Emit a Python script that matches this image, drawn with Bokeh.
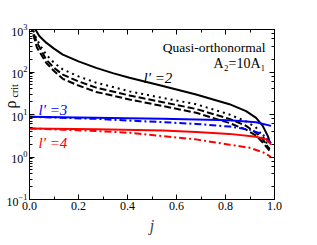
import numpy as np
from bokeh.plotting import figure
from bokeh.models import (Range1d, LinearAxis, LogAxis, FixedTicker, LogTicker, Label,
                          PrintfTickFormatter, CustomJSTickFormatter)
from bokeh.embed import file_html
from bokeh.resources import INLINE

# ticks
x_ticks = [0.0, 0.2, 0.4, 0.6, 0.8, 1.0]
x_minor = [0.1, 0.3, 0.5, 0.7, 0.9]

# l'=2 (black) curves
j_l2_solid = [0.02, 0.024, 0.04, 0.068, 0.1, 0.136, 0.2, 0.272, 0.34, 0.408, 0.544, 0.68, 0.816, 0.884, 0.925, 0.952, 0.973, 0.982]
rho_l2_solid = [1300, 1000, 700, 490, 355, 257, 178, 125, 94, 73, 47, 29.5, 17.5, 12, 8.3, 5.4, 3.1, 2.1]

j_l2_dot = [0.01, 0.014, 0.025, 0.041, 0.068, 0.1, 0.136, 0.2, 0.272, 0.408, 0.544, 0.68, 0.816, 0.884, 0.925, 0.952, 0.975, 0.982]
rho_l2_dot = [1300, 1000, 680, 445, 257, 165, 115, 79, 56, 35, 24.5, 17.5, 10, 6.9, 4.9, 3.1, 1.8, 1.3]

j_l2_dash1 = [0.008, 0.011, 0.03, 0.068, 0.1, 0.136, 0.2, 0.272, 0.408, 0.544, 0.68, 0.816, 0.884, 0.925, 0.952, 0.98]
rho_l2_dash1 = [1300, 1000, 500, 196, 125, 87, 60, 43, 28, 19.5, 13.5, 7.9, 5.4, 3.7, 2.6, 1.5]

j_l2_dash2 = [0.007, 0.01, 0.03, 0.068, 0.1, 0.136, 0.2, 0.272, 0.408, 0.544, 0.68, 0.816, 0.884, 0.925, 0.952, 0.98]
rho_l2_dash2 = [1300, 1000, 380, 165, 105, 69, 48, 34, 22.6, 15.8, 11, 6.3, 4.4, 3.2, 2.2, 1.4]

# l'=3 (blue) curves
j_l3_solid = [0.0, 0.2, 0.4, 0.544, 0.68, 0.816, 0.925, 0.986]
rho_l3_solid = [8.8, 8.5, 8.2, 7.9, 7.6, 7.3, 6.6, 5.4]

j_l3_dashdot = [0.0, 0.1, 0.272, 0.408, 0.544, 0.68, 0.816, 0.898, 0.952, 0.986]
rho_l3_dashdot = [8.8, 8.5, 7.9, 7.2, 6.6, 6.0, 5.2, 4.4, 3.4, 2.1]

# l'=4 (red) curves
j_l4_solid = [0.0, 0.272, 0.544, 0.68, 0.816, 0.925, 0.966, 0.986]
rho_l4_solid = [4.7, 4.5, 4.2, 3.9, 3.5, 3.0, 2.6, 1.95]

j_l4_dashdot = [0.0, 0.136, 0.272, 0.408, 0.544, 0.68, 0.816, 0.898, 0.952, 0.986]
rho_l4_dashdot = [4.7, 4.4, 4.1, 3.7, 3.1, 2.6, 1.95, 1.65, 1.3, 1.0]

FONT = "Liberation Serif"
FW, FH = 245, 170   # frame size in px

p = figure(frame_width=FW, frame_height=FH, x_range=Range1d(0, 1), y_range=Range1d(0.1, 1000),
           y_axis_type="log", output_backend="svg", toolbar_location=None,
           min_border_left=29, min_border_right=26, min_border_top=29, min_border_bottom=36)
p.xgrid.visible = False
p.ygrid.visible = False
p.outline_line_color = "black"
p.background_fill_color = "white"
p.border_fill_color = "white"


def style(ax):
    ax.major_tick_in = 5
    ax.major_tick_out = 0
    ax.minor_tick_in = 3
    ax.minor_tick_out = 0
    ax.axis_line_color = "black"
    ax.major_tick_line_color = "black"
    ax.minor_tick_line_color = "black"
    ax.major_label_text_font = FONT
    ax.major_label_text_color = "black"
    ax.major_label_standoff = 2
    ax.major_label_text_font_size = "12px"


p.xaxis.ticker = FixedTicker(ticks=x_ticks, minor_ticks=x_minor)
p.xaxis.formatter = PrintfTickFormatter(format="%.1f")
style(p.xaxis[0])
p.xaxis.axis_label = "j"
p.xaxis.axis_label_text_font = FONT
p.xaxis.axis_label_text_font_style = "italic"
p.xaxis.axis_label_text_font_size = "16px"
p.xaxis.axis_label_standoff = 4
style(p.yaxis[0])

top = LinearAxis(ticker=FixedTicker(ticks=x_ticks, minor_ticks=x_minor),
                 formatter=CustomJSTickFormatter(code="return ''"))
style(top)
p.add_layout(top, "above")
right = LogAxis(ticker=LogTicker(), formatter=CustomJSTickFormatter(code="return ''"))
style(right)
p.add_layout(right, "right")

lw = 2
p.line(j_l2_solid, rho_l2_solid, color="black", line_width=lw)
p.line(j_l2_dot, rho_l2_dot, color="black", line_width=lw, line_dash="2 4")
p.line(j_l2_dash1, rho_l2_dash1, color="black", line_width=lw, line_dash="7 3")
p.line(j_l2_dash2, rho_l2_dash2, color="black", line_width=lw, line_dash="7 3")
p.line(j_l3_solid, rho_l3_solid, color="#0000ff", line_width=lw)
p.line(j_l3_dashdot, rho_l3_dashdot, color="#0000ff", line_width=lw, line_dash="7 3 2 3")
p.line(j_l4_solid, rho_l4_solid, color="#ff0000", line_width=lw)
p.line(j_l4_dashdot, rho_l4_dashdot, color="#ff0000", line_width=lw, line_dash="7 3 2 3")


def mk(x, y, text, color="black", size="13px", style="normal", align="left", angle=0.0, units="screen"):
    return Label(x=x, y=y, x_units=units, y_units=units, text=text,
                 text_color=color, text_font=FONT, text_font_size=size,
                 text_font_style=style, text_align=align, text_baseline="middle",
                 angle=angle)


p.add_layout(mk(236, 152, "Quasi-orthonormal", size="13.5px", align="right"))
p.add_layout(mk(236, 136, "A₂=10A₁", size="14px", align="right"))
p.add_layout(mk(114, 122, "l′ =2", style="italic", size="15px"))
p.add_layout(mk(9, 90, "l′ =3", color="#0000ff", style="italic", size="15px"))
p.add_layout(mk(9, 57, "l′ =4", color="#ff0000", style="italic", size="15px"))


# y axis label (rho_crit): placed left of the frame via pixel offsets converted to
# data position; hosted in free side panels so it is not clipped to the frame
def frame_pos(px, py):
    return px / FW, 10 ** (-1 + 4 * py / FH)


rx, ry = frame_pos(-19, 95)
p.add_layout(mk(rx, ry, "ρ", size="16px", align="center", angle=np.pi / 2, units="data"), "right")
cx, cy = frame_pos(-15, 102)
p.add_layout(mk(cx, cy, "crit", size="10px", align="left", angle=np.pi / 2, units="data"), "above")

open("out.html", "w").write(file_html(p, INLINE))
